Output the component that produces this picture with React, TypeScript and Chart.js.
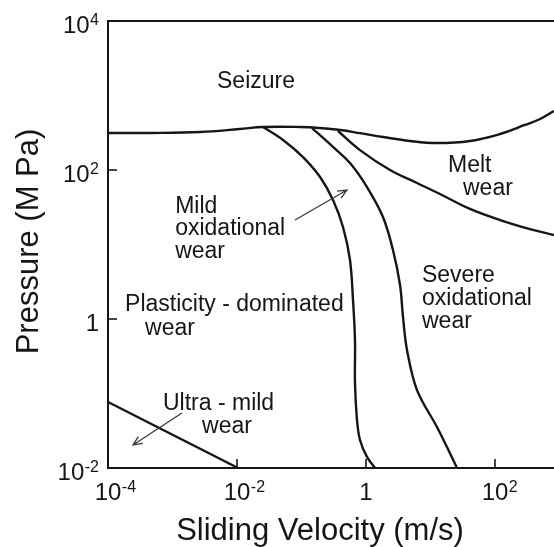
import React, { useEffect, useRef } from "react";
import { Chart, registerables } from "chart.js";

Chart.register(...registerables);

// ---- data (velocity in m/s, pressure in MPa) ----
const seizureV = [1e-4, 4.5e-4, 2.7e-3, 0.011, 0.025, 0.095, 0.19, 0.4, 0.81, 1.84, 4.8, 12.6, 41, 120, 290, 500, 820];
const seizureP = [314, 314, 324, 355, 378, 378, 366, 344, 312, 277, 245, 230, 245, 304, 402, 484, 620];

const mildV = [0.0253, 0.0517, 0.1055, 0.194, 0.308, 0.44, 0.565, 0.629, 0.675, 0.675, 0.725, 0.807, 1.036, 1.38];
const mildP = [378, 253, 149, 80.5, 39.6, 17.2, 6.19, 1.8, 0.523, 0.138, 0.0441, 0.0238, 0.0141, 0.01];

const severeV = [0.1455, 0.308, 0.565, 1.036, 1.835, 2.62, 3.37, 3.75, 4.32, 6.18, 12.6, 18.0, 25.8];
const severeP = [366, 204, 124, 59.1, 23.4, 8.43, 2.86, 1.06, 0.384, 0.111, 0.0355, 0.0191, 0.01];

const meltV = [0.368, 0.807, 2.36, 6.18, 14.0, 40.9, 120, 349, 822];
const meltP = [334, 185, 100, 66.9, 47.6, 30.0, 21.3, 16.1, 13.4];

const ultraV = [1e-4, 0.0104];
const ultraP = [0.0769, 0.01];

const xTickValues = [1e-4, 1e-2, 1, 1e2];
const xTickLabels = [["10", "-4"], ["10", "-2"], ["1", ""], ["10", "2"]];
const yTickValues = [1e-2, 1, 1e2, 1e4];
const yTickLabels = [["10", "-2"], ["1", ""], ["10", "2"], ["10", "4"]];

const labelTexts = ["Seizure", "Melt", "wear", "Mild", "oxidational", "wear", "Plasticity - dominated", "wear", "Severe", "oxidational", "wear", "Ultra - mild", "wear"];
const labelV = [0.0049, 18.7, 31.9, 0.0011, 0.0011, 0.0011, 1.84e-4, 3.75e-4, 7.38, 7.38, 7.38, 7.12e-4, 2.87e-3];
const labelP = [1261, 94, 46.2, 26.5, 13.4, 6.59, 1.28, 0.61, 3.14, 1.54, 0.757, 0.06, 0.0295];

const arrowFromV = [0.0793, 0.0014];
const arrowFromP = [21.3, 0.0547];
const arrowToV = [0.507, 2.44e-4];
const arrowToP = [53.9, 0.0204];

const xTitle = "Sliding Velocity (m/s)";
const yTitle = "Pressure (M Pa)";

const FONT = "'Liberation Sans', Arial, Helvetica, sans-serif";
const INK = "#161616";

const pts = (vs: number[], ps: number[]) => vs.map((v, i) => ({ x: v, y: ps[i] }));

const overlay = {
  id: "overlay",
  afterDatasetsDraw(chart: any) {
    const { ctx, chartArea, scales } = chart;
    const x = scales.x;
    const y = scales.y;
    const { left, right, top, bottom } = chartArea;
    ctx.save();
    ctx.strokeStyle = INK;
    ctx.fillStyle = INK;
    ctx.lineCap = "butt";

    // top frame line
    ctx.lineWidth = 2;
    ctx.beginPath();
    ctx.moveTo(left - 1, top);
    ctx.lineTo(right, top);
    ctx.stroke();

    // inward tick marks
    ctx.lineWidth = 1.6;
    xTickValues.forEach((v) => {
      const px = x.getPixelForValue(v);
      ctx.beginPath();
      ctx.moveTo(px, bottom);
      ctx.lineTo(px, bottom - 9);
      ctx.stroke();
    });
    yTickValues.forEach((v) => {
      const py = y.getPixelForValue(v);
      ctx.beginPath();
      ctx.moveTo(left, py);
      ctx.lineTo(left + 9, py);
      ctx.stroke();
    });

    // tick labels with superscripts
    const baseFont = `24px ${FONT}`;
    const expFont = `16px ${FONT}`;
    ctx.textBaseline = "alphabetic";
    ctx.textAlign = "left";
    xTickValues.forEach((v, i) => {
      const [b, e] = xTickLabels[i];
      const px = x.getPixelForValue(v);
      ctx.font = baseFont;
      const wb = ctx.measureText(b).width;
      const sx = px - wb / 2;
      const by = bottom + 32;
      ctx.fillText(b, sx, by);
      if (e) {
        ctx.font = expFont;
        ctx.fillText(e, sx + wb + 0.5, by - 8);
      }
    });
    yTickValues.forEach((v, i) => {
      const [b, e] = yTickLabels[i];
      const py = y.getPixelForValue(v);
      ctx.font = baseFont;
      const wb = ctx.measureText(b).width;
      ctx.font = expFont;
      const we = e ? ctx.measureText(e).width + 0.5 : 0;
      const endX = left - 9;
      const sx = endX - wb - we;
      const by = py + 12;
      ctx.font = baseFont;
      ctx.fillText(b, sx, by);
      if (e) {
        ctx.font = expFont;
        ctx.fillText(e, sx + wb + 0.5, by - 8);
      }
    });

    // region labels
    ctx.font = `23px ${FONT}`;
    labelTexts.forEach((t, i) => {
      ctx.fillText(t, x.getPixelForValue(labelV[i]), y.getPixelForValue(labelP[i]));
    });

    // arrows
    ctx.strokeStyle = "#3a3a3a";
    ctx.lineWidth = 1.3;
    arrowFromV.forEach((_, i) => {
      const x0 = x.getPixelForValue(arrowFromV[i]);
      const y0 = y.getPixelForValue(arrowFromP[i]);
      const x1 = x.getPixelForValue(arrowToV[i]);
      const y1 = y.getPixelForValue(arrowToP[i]);
      ctx.beginPath();
      ctx.moveTo(x0, y0);
      ctx.lineTo(x1, y1);
      const a = Math.atan2(y1 - y0, x1 - x0);
      const L = 10;
      const h = 0.42;
      ctx.moveTo(x1 - L * Math.cos(a - h), y1 - L * Math.sin(a - h));
      ctx.lineTo(x1, y1);
      ctx.lineTo(x1 - L * Math.cos(a + h), y1 - L * Math.sin(a + h));
      ctx.stroke();
    });

    // axis titles
    ctx.fillStyle = INK;
    ctx.font = `31px ${FONT}`;
    ctx.textAlign = "center";
    ctx.fillText(xTitle, (left + right) / 2 - 11, bottom + 72);
    ctx.translate(left - 70, (top + bottom) / 2 - 3);
    ctx.rotate(-Math.PI / 2);
    ctx.fillText(yTitle, 0, 0);
    ctx.restore();
  },
};

export default function App() {
  const ref = useRef<HTMLCanvasElement>(null);

  useEffect(() => {
    const lineStyle = {
      borderColor: INK,
      borderWidth: 2.4,
      pointRadius: 0,
      tension: 0.4,
      fill: false,
    };
    const chart = new Chart(ref.current as HTMLCanvasElement, {
      type: "line",
      data: {
        datasets: [
          { label: "Seizure boundary", data: pts(seizureV, seizureP), ...lineStyle },
          { label: "Mild oxidational boundary", data: pts(mildV, mildP), ...lineStyle, tension: 0.35 },
          { label: "Severe oxidational boundary", data: pts(severeV, severeP), ...lineStyle, tension: 0.35 },
          { label: "Melt boundary", data: pts(meltV, meltP), ...lineStyle },
          { label: "Ultra-mild boundary", data: pts(ultraV, ultraP), ...lineStyle, tension: 0 },
        ],
      },
      options: {
        responsive: false,
        animation: false,
        layout: { padding: { left: 108, top: 21, right: 0, bottom: 79 } },
        plugins: { legend: { display: false }, tooltip: { enabled: false } },
        scales: {
          x: {
            type: "logarithmic",
            min: 1e-4,
            max: 822,
            afterBuildTicks: (s: any) => {
              s.ticks = xTickValues.map((v) => ({ value: v }));
            },
            afterFit: (s: any) => {
              s.height = 0;
            },
            ticks: { display: false },
            grid: { display: true, drawOnChartArea: false, drawTicks: false },
            border: { display: true, color: INK, width: 2 },
          },
          y: {
            type: "logarithmic",
            min: 1e-2,
            max: 1e4,
            afterBuildTicks: (s: any) => {
              s.ticks = yTickValues.map((v) => ({ value: v }));
            },
            afterFit: (s: any) => {
              s.width = 0;
            },
            ticks: { display: false },
            grid: { display: true, drawOnChartArea: false, drawTicks: false },
            border: { display: true, color: INK, width: 2 },
          },
        },
      },
      plugins: [overlay],
    });
    return () => chart.destroy();
  }, []);

  return (
    <div style={{ position: "fixed", left: 0, top: 0, width: 554, height: 547, background: "#fff" }}>
      <canvas ref={ref} width={554} height={547} style={{ display: "block" }} />
    </div>
  );
}
